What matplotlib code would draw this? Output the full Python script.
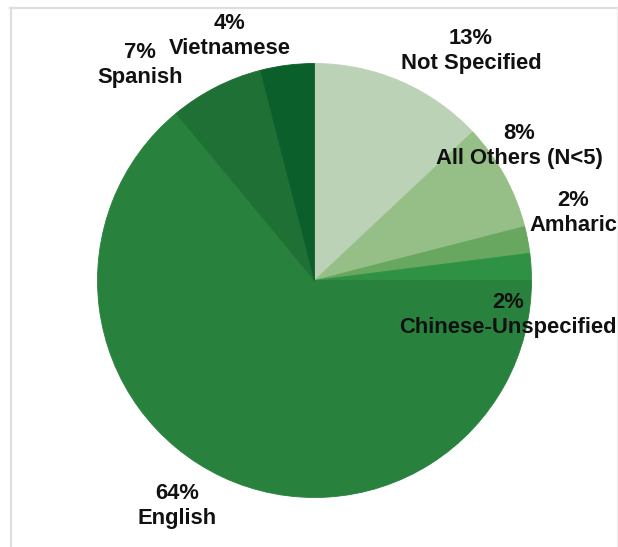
import matplotlib.pyplot as plt
from matplotlib.lines import Line2D

# Share of respondents by primary language
languages = ["Not Specified", "All Others (N<5)", "Amharic", "Chinese-Unspecified",
             "English", "Spanish", "Vietnamese"]
percents = [13, 8, 2, 2, 64, 7, 4]

colors = ["#bcd2b6", "#95bf86", "#68a760", "#2f9143", "#28823e", "#1f7034", "#0b5f2a"]

# label anchor points (pixel coords, y measured from top)
label_xy = [(471, 51), (519, 146), (573, 213), (508, 315),
            (177, 506), (140, 65), (230, 36)]

W, H = 618, 547
fig = plt.figure(figsize=(W / 100, H / 100), dpi=100)
ax = fig.add_axes([0, 0, 1, 1])

wedges, _ = ax.pie(percents, colors=colors, startangle=90, counterclock=False,
                   center=(314.5, H - 280.5), radius=217)
for w, c in zip(wedges, colors):
    # edge in the slice colour to close hairline gaps
    w.set_edgecolor(c)
    w.set_linewidth(0.6)

# pie() resets the limits, so pin them to pixel units afterwards
ax.set_xlim(0, W)
ax.set_ylim(0, H)
ax.set_aspect("equal")
ax.axis("off")

for name, pct, (x, y) in zip(languages, percents, label_xy):
    ax.text(x, H - y, f"{pct}%\n{name}", ha="center", va="center",
            fontsize=15.8, fontweight="bold", family="Liberation Sans",
            color="#111111", linespacing=1.3)

# light frame along top and sides
frame = dict(color="#dedede", linewidth=1.6, transform=fig.transFigure)
fig.add_artist(Line2D([10 / W, 1], [1 - 8 / H, 1 - 8 / H], **frame))
fig.add_artist(Line2D([10.5 / W, 10.5 / W], [0, 1 - 8 / H], **frame))
fig.add_artist(Line2D([616.5 / W, 616.5 / W], [0, 1 - 8 / H], color="#f0f0f0",
                      linewidth=1.0, transform=fig.transFigure))

fig.savefig("out.png", dpi=100)
